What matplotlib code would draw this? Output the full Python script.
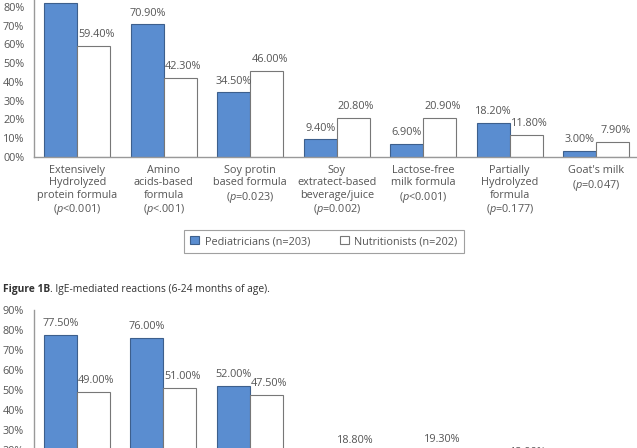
import matplotlib.pyplot as plt
import numpy as np

plt.rcParams['font.family'] = ['Open Sans', 'DejaVu Sans']
plt.rcParams['mathtext.fontset'] = 'custom'
plt.rcParams['mathtext.rm'] = 'Open Sans'
plt.rcParams['mathtext.it'] = 'Open Sans:italic'

# Figure 1A (top, cropped) and Figure 1B (bottom, cropped)
categories = [
    "Extensively\nHydrolyzed\nprotein formula\n($p$<0.001)",
    "Amino\nacids-based\nformula\n($p$<.001)",
    "Soy protin\nbased formula\n($p$=0.023)",
    "Soy\nextratect-based\nbeverage/juice\n($p$=0.002)",
    "Lactose-free\nmilk formula\n($p$<0.001)",
    "Partially\nHydrolyzed\nformula\n($p$=0.177)",
    "Goat's milk\n($p$=0.047)",
]
a_pediatricians = [82.3, 70.9, 34.5, 9.4, 6.9, 18.2, 3.0]
a_nutritionists = [59.4, 42.3, 46.0, 20.8, 20.9, 11.8, 7.9]

b_pediatricians = [77.5, 76.0, 52.0, 9.0, 8.0, 10.0, 4.0]
b_nutritionists = [49.0, 51.0, 47.5, 18.8, 19.3, 12.9, 8.0]

y_ticks = [0, 10, 20, 30, 40, 50, 60, 70, 80, 90]
y_labels = ["00%", "10%", "20%", "30%", "40%", "50%", "60%", "70%", "80%", "90%"]

blue = "#5A8DD0"
text_col = "#555555"
W, H = 637, 448

fig = plt.figure(figsize=(W / 100, H / 100), dpi=100)


def draw(ax, ped, nut):
    x = np.arange(len(categories))
    w = 0.38
    b1 = ax.bar(x - w / 2, ped, w, color=blue, edgecolor="#3d5f8c", linewidth=0.8,
                label="Pediatricians (n=203)")
    b2 = ax.bar(x + w / 2, nut, w, color="white", edgecolor="#777777", linewidth=0.8,
                label="Nutritionists (n=202)")
    for bars, vals, dx in ((b1, ped, 0), (b2, nut, 2)):
        for r, v in zip(bars, vals):
            ax.annotate(f"{v:.2f}%", (r.get_x() + r.get_width() / 2, v),
                        xytext=(dx, 8), textcoords="offset points",
                        ha="center", va="center", fontsize=7.8, color=text_col,
                        annotation_clip=False)
    ax.set_xlim(-0.5, len(categories) - 0.5)
    ax.set_ylim(0, 90)
    ax.set_yticks(y_ticks)
    ax.set_yticklabels(y_labels)
    ax.set_xticks(x)
    ax.set_xticklabels(categories, linespacing=1.16)
    for s in ("top", "right"):
        ax.spines[s].set_visible(False)
    for s in ("left", "bottom"):
        ax.spines[s].set_color("#999999")
        ax.spines[s].set_linewidth(1.0)
    ax.tick_params(axis="both", length=0, labelsize=7.8, colors=text_col)
    ax.tick_params(axis="y", pad=7)
    ax.tick_params(axis="x", pad=6)
    return b1, b2


ax1 = fig.add_axes([34 / W, (H - 156.7) / H, 605.5 / W, 168.3 / H])
h1, h2 = draw(ax1, a_pediatricians, a_nutritionists)

ax2 = fig.add_axes([33.5 / W, (H - 489.7) / H, 605.5 / W, 180 / H])
draw(ax2, b_pediatricians, b_nutritionists)

leg = fig.legend(handles=[h1, h2], loc="center", bbox_to_anchor=(324 / W, 1 - 241.5 / H),
                 ncol=2, frameon=True, fancybox=False, edgecolor="#888888",
                 fontsize=7.8, handlelength=0.8, handleheight=0.8, columnspacing=2.8,
                 handletextpad=0.5, borderpad=0.55, borderaxespad=0, labelcolor=text_col)
leg.get_frame().set_linewidth(0.8)

# caption for Figure 1B
t1 = fig.text(3.3 / W, 1 - 289.5 / H, "Figure 1B", fontsize=7.4, fontweight="bold",
              color="#333333", va="center")
fig.canvas.draw()
bb = t1.get_window_extent()
fig.text(bb.x1 / W, 1 - 289.5 / H, ". IgE-mediated reactions (6-24 months of age).",
         fontsize=7.4, color="#333333", va="center")

fig.savefig("out.png", dpi=100)
